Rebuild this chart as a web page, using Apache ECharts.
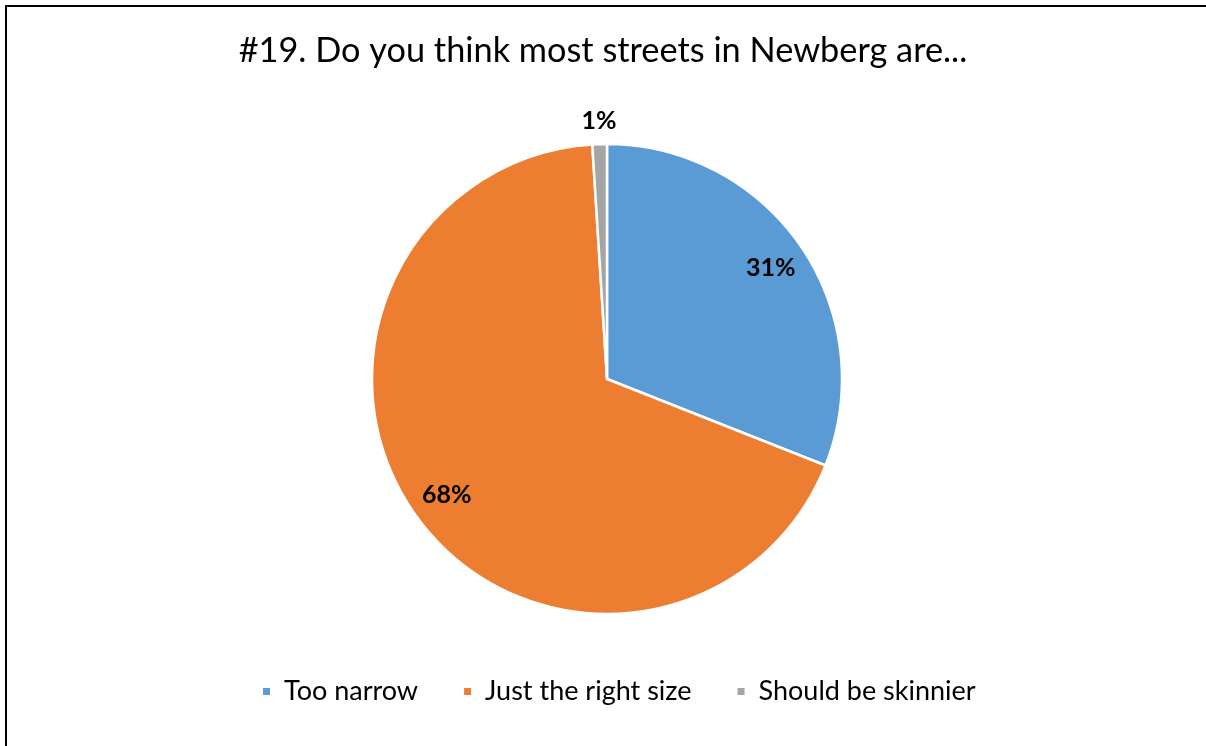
<!DOCTYPE html>
<html>
<head>
<meta charset="utf-8">
<title>Newberg streets survey</title>
<script src="https://cdn.jsdelivr.net/npm/echarts@6/dist/echarts.min.js"></script>
<style>
  html, body { margin: 0; padding: 0; background: #fff; }
  #chart { width: 1206px; height: 746px; }
</style>
</head>
<body>
<div id="chart"></div>
<script>
// Survey question #19 responses
const titleText = '#19. Do you think most streets in Newberg are...';
const categories = ['Too narrow', 'Just the right size', 'Should be skinnier'];
const shares = [31, 68, 1];
const colors = ['#5B9BD5', '#ED7D31', '#A5A5A5'];

const FONT = 'Lato, "Open Sans", sans-serif';
const center = [607, 379];
const R = 235;
const SMALL = 5; // slices below this share get their label outside the rim

const labelStyle = {
  formatter: '{c}%',
  fontFamily: FONT, fontSize: 25, fontWeight: 'bold', color: '#000'
};

// Invisible ring used only to place labels at the middle of its band.
function labelRing(radius, pick) {
  return {
    type: 'pie',
    center,
    radius,
    startAngle: 90,
    clockwise: true,
    silent: true,
    legendHoverLink: false,
    data: categories.map((name, i) => ({
      name,
      value: shares[i],
      label: { show: pick(shares[i]), position: 'inside' }
    })),
    itemStyle: { color: 'rgba(0,0,0,0)' },
    label: labelStyle,
    labelLine: { show: false },
    emphasis: { disabled: true },
    tooltip: { show: false }
  };
}

const chart = echarts.init(document.getElementById('chart'), null, { renderer: 'canvas' });

chart.setOption({
  backgroundColor: '#ffffff',
  animation: false,
  title: {
    text: titleText,
    left: 'center',
    top: 29,
    textStyle: { fontFamily: FONT, fontSize: 34.3, fontWeight: 'normal', color: '#000' }
  },
  legend: {
    data: categories,
    left: 256,
    top: 673,
    icon: 'rect',
    itemWidth: 9,
    itemHeight: 9,
    itemGap: 44,
    textStyle: { fontFamily: FONT, fontSize: 27, color: '#000', padding: [0, 0, 0, 8] }
  },
  graphic: [{
    type: 'rect',
    silent: true,
    shape: { x: 6, y: 6, width: 1400, height: 1000 },
    style: { fill: 'none', stroke: '#000', lineWidth: 2 }
  }],
  series: [
    {
      name: 'Responses',
      type: 'pie',
      center,
      radius: [0, R],
      startAngle: 90,
      clockwise: true,
      data: categories.map((name, i) => ({
        name,
        value: shares[i],
        itemStyle: { color: colors[i] }
      })),
      itemStyle: { borderColor: '#fff', borderWidth: 2.5 },
      label: { show: false },
      labelLine: { show: false },
      emphasis: { disabled: true }
    },
    labelRing([R * 0.66, R], v => v >= SMALL),
    labelRing([R, R + 40], v => v < SMALL)
  ]
});
</script>
</body>
</html>
